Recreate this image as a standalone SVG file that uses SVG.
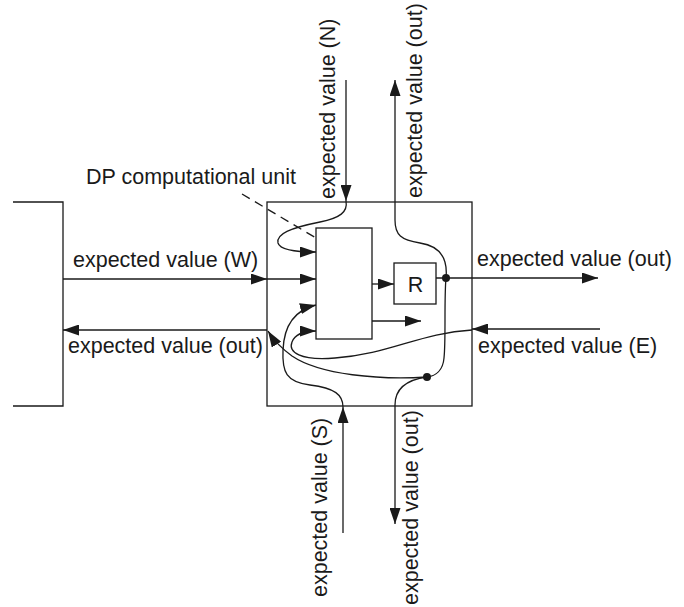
<svg xmlns="http://www.w3.org/2000/svg" width="684" height="607" viewBox="0 0 684 607">
  <defs>
    <marker id="arrow" markerUnits="userSpaceOnUse" markerWidth="16" markerHeight="11" refX="16" refY="5.5" orient="auto">
      <path d="M0,0 L16,5.5 L0,11 z" fill="#1a1a1a"/>
    </marker>
    <style>
      .ln { fill: none; stroke: #1a1a1a; stroke-width: 1.3; }
      .arr { marker-end: url(#arrow); }
      .dash { stroke-dasharray: 9 6; }
      .box { fill: #ffffff; stroke: #1a1a1a; stroke-width: 1.3; }
      .lbl { font-family: "Liberation Sans", Arial, sans-serif; font-size: 21.5px; fill: #1a1a1a; }
      .dot { fill: #1a1a1a; }
    </style>
  </defs>
  <rect width="684" height="607" fill="#ffffff"/>

  <!-- neighbouring cell on the left -->
  <g id="west-cell">
    <path class="ln" d="M13,202 L63,202 L63,406 L13,406"/>
  </g>

  <!-- processing cell -->
  <g id="cell">
    <rect class="box" x="267" y="202" width="205" height="204"/>
  </g>

  <!-- DP computational unit -->
  <g id="dp-unit">
    <rect class="box" x="316" y="228" width="56" height="111"/>
  </g>

  <!-- register -->
  <g id="register">
    <rect class="box" x="394" y="263" width="42" height="41"/>
    <text class="lbl" x="415.5" y="292" text-anchor="middle">R</text>
  </g>

  <g id="connectors">
    <!-- west input -->
    <line class="ln arr" x1="63" y1="279" x2="267" y2="279"/>
    <line class="ln arr" x1="267" y1="279" x2="316" y2="279"/>
    <!-- west output -->
    <line class="ln arr" x1="267" y1="330" x2="63" y2="330"/>
    <!-- north input -->
    <line class="ln arr" x1="346" y1="80" x2="346" y2="201"/>
    <path class="ln arr" d="M346,201 C348,212 340,218 320,222 C290,228 276,234 278,243 C280,250 298,252 316,252"/>
    <!-- south input -->
    <line class="ln arr" x1="343" y1="533" x2="343" y2="407"/>
    <path class="ln arr" d="M343,407 C343,395 335,388 310,385 C286,382 282,372 283,350 C284,326 295,310 316,305"/>
    <!-- east input -->
    <line class="ln arr" x1="600" y1="329" x2="472" y2="329"/>
    <path class="ln arr" d="M472,330 C420,333 390,354 335,358 C300,361 288,352 292,342 C295,334 303,331 316,331"/>
    <!-- unit outputs -->
    <line class="ln arr" x1="372" y1="284" x2="394" y2="284"/>
    <line class="ln arr" x1="372" y1="321" x2="421" y2="321"/>
    <!-- register output to east -->
    <line class="ln arr" x1="436" y1="278" x2="598" y2="278"/>
    <!-- register output to north -->
    <path class="ln arr" d="M446,278 C448,258 440,246 420,243 C401,240 395,235 395,220 L395,80"/>
    <!-- register output to south and west -->
    <path class="ln" d="M446,278 C444,300 446,340 444,358 C443,370 436,376 427,377"/>
    <path class="ln arr" d="M427,377 C405,380 395,390 395,405 L395,524"/>
    <path class="ln arr" d="M427,377 C380,380 320,375 292,356 C281,348 273,339 268,331"/>
    <!-- pointer to the computational unit -->
    <line class="ln dash" x1="242" y1="194" x2="316" y2="238"/>
    <circle class="dot" cx="446" cy="278" r="4"/>
    <circle class="dot" cx="427" cy="377" r="4"/>
  </g>

  <g id="labels">
    <text class="lbl" x="86" y="184">DP computational unit</text>
    <text class="lbl" x="73" y="267">expected value (W)</text>
    <text class="lbl" x="68" y="353">expected value (out)</text>
    <text class="lbl" x="477" y="266">expected value (out)</text>
    <text class="lbl" x="478" y="353">expected value (E)</text>
    <text class="lbl" transform="translate(335,199) rotate(-90)">expected value (N)</text>
    <text class="lbl" transform="translate(422,198) rotate(-90)">expected value (out)</text>
    <text class="lbl" transform="translate(327,597) rotate(-90)">expected value (S)</text>
    <text class="lbl" transform="translate(418,605) rotate(-90)">expected value (out)</text>
  </g>
</svg>
